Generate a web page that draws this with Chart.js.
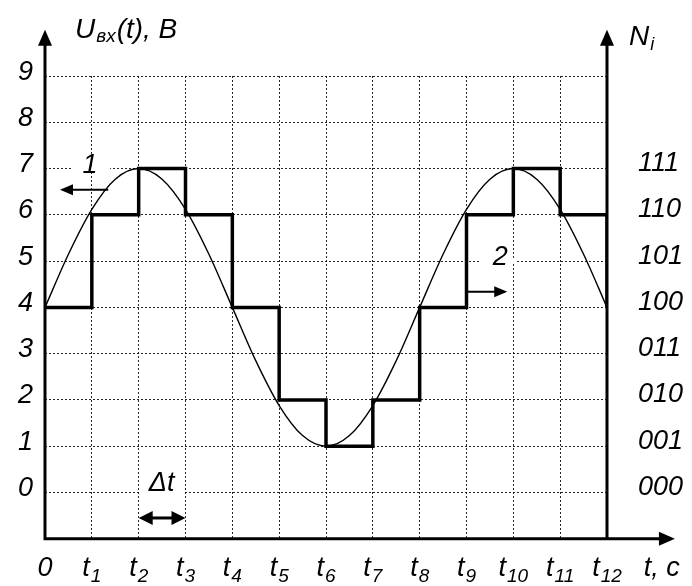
<!DOCTYPE html>
<html>
<head>
<meta charset="utf-8">
<title>АЦП: квантование входного напряжения</title>
<script src="https://cdn.jsdelivr.net/npm/chart.js@4.4.0/dist/chart.umd.min.js"></script>
<style>
  html, body { margin: 0; padding: 0; background: #fff; }
  canvas { display: block; }
</style>
</head>
<body>
<canvas id="adcChart" width="692" height="586"></canvas>
<script>
// sampling moments t0..t12 (in steps of Δt)
const sampleTimes = [0, 1, 2, 3, 4, 5, 6, 7, 8, 9, 10, 11, 12];
// quantized level held from each sample until the next one
const heldLevels = [4, 6, 7, 6, 4, 2, 1, 2, 4, 6, 7, 6, 4];

// input voltage Uвх(t), read every half step
const inputTimes = [0, 0.5, 1, 1.5, 2, 2.5, 3, 3.5, 4, 4.5, 5, 5.5, 6,
                    6.5, 7, 7.5, 8, 8.5, 9, 9.5, 10, 10.5, 11, 11.5, 12];
const inputVolts = [4.0, 5.15, 6.12, 6.77, 7.0, 6.77, 6.12, 5.15, 4.0, 2.85, 1.88, 1.23, 1.0,
                    1.23, 1.88, 2.85, 4.0, 5.15, 6.12, 6.77, 7.0, 6.77, 6.12, 5.15, 4.0];

const voltTicks = ['0', '1', '2', '3', '4', '5', '6', '7', '8', '9'];
const codeTicks = ['000', '001', '010', '011', '100', '101', '110', '111'];
const timeTicks = ['0', 't1', 't2', 't3', 't4', 't5', 't6', 't7', 't8', 't9', 't10', 't11', 't12'];

const FONT = "'Liberation Sans', Arial, sans-serif";
const gridColor = 'rgba(0,0,0,0.85)';

function italic(size) {
  return 'italic ' + size + 'px ' + FONT;
}

// filled arrow head with its tip at (x, y), pointing along (dx, dy)
function arrowHead(ctx, x, y, dx, dy, len, half) {
  ctx.beginPath();
  ctx.moveTo(x, y);
  ctx.lineTo(x - dx * len - dy * half, y - dy * len + dx * half);
  ctx.lineTo(x - dx * len + dy * half, y - dy * len - dx * half);
  ctx.closePath();
  ctx.fill();
}

// text with a lowered, smaller index; x is the left edge
function textWithIndex(ctx, x, y, main, sub, big, small, drop) {
  ctx.font = italic(big);
  ctx.fillText(main, x, y);
  const w = ctx.measureText(main).width;
  ctx.font = italic(small);
  ctx.fillText(sub, x + w + 1, y + drop);
  return w + 1 + ctx.measureText(sub).width;
}

function indexWidth(ctx, main, sub, big, small) {
  ctx.font = italic(big);
  const w = ctx.measureText(main).width;
  ctx.font = italic(small);
  return w + (sub ? 1 + ctx.measureText(sub).width : 0);
}

const axesAndNotes = {
  id: 'axesAndNotes',
  beforeDatasetsDraw(chart) {
    // clear the grid behind the callout labels
    const { ctx, scales: { x, y } } = chart;
    ctx.save();
    ctx.fillStyle = '#fff';
    ctx.fillRect(x.getPixelForValue(0.58), y.getPixelForValue(7) - 2, x.getPixelForValue(1.39) - x.getPixelForValue(0.58), 4);
    ctx.fillRect(x.getPixelForValue(9.29), y.getPixelForValue(5) - 2, x.getPixelForValue(10.08) - x.getPixelForValue(9.29), 4);
    ctx.fillRect(x.getPixelForValue(2) + 1.5, y.getPixelForValue(0) - 2, x.getPixelForValue(3) - x.getPixelForValue(2) - 3, 4);
    ctx.restore();
  },
  afterDraw(chart) {
    const { ctx, scales: { x, y } } = chart;
    const X = v => x.getPixelForValue(v);
    const Y = v => y.getPixelForValue(v);
    ctx.save();
    ctx.strokeStyle = '#000';
    ctx.fillStyle = '#000';

    // axes with arrows
    ctx.lineWidth = 3;
    ctx.beginPath();
    ctx.moveTo(X(0), Y(-1) + 1.5);
    ctx.lineTo(X(0), Y(10) + 10);
    ctx.moveTo(X(12), Y(-1));
    ctx.lineTo(X(12), Y(10) + 10);
    ctx.moveTo(X(0) - 1.5, Y(-1));
    ctx.lineTo(X(13.45) - 10, Y(-1));
    ctx.stroke();
    arrowHead(ctx, X(0), Y(10), 0, -1, 16, 7);
    arrowHead(ctx, X(12), Y(10), 0, -1, 16, 7);
    arrowHead(ctx, X(13.45), Y(-1), 1, 0, 16, 7);

    // axis titles
    ctx.textBaseline = 'alphabetic';
    ctx.textAlign = 'left';
    const tw = textWithIndex(ctx, 75, 38, 'U', 'вх', 28, 19, 4);
    ctx.font = italic(28);
    ctx.fillText('(t), В', 75 + tw + 1, 38);
    textWithIndex(ctx, 629, 45, 'N', 'i', 28, 18, 5);

    // time labels under the axis
    const base = Y(-1) + 37;
    timeTicks.forEach((label, i) => {
      const main = label[0];
      const sub = label.slice(1);
      const w = indexWidth(ctx, main, sub, 27, 19);
      textWithIndex(ctx, X(sampleTimes[i]) - w / 2, base, main, sub, 27, 19, 6);
    });
    ctx.font = italic(27);
    ctx.textAlign = 'center';
    ctx.fillText('t, с', X(13.17), base);

    // callouts: 1 — input voltage, 2 — quantized output
    ctx.fillText('1', X(0.96), Y(6.91));
    ctx.fillText('2', X(9.72), Y(4.92));
    ctx.fillText('Δt', X(2.49), Y(0.03));

    ctx.lineWidth = 2;
    ctx.beginPath();
    ctx.moveTo(X(1.35), Y(6.54));
    ctx.lineTo(X(0.32) + 8, Y(6.54));
    ctx.moveTo(X(9), Y(4.34));
    ctx.lineTo(X(9.87) - 8, Y(4.34));
    ctx.stroke();
    arrowHead(ctx, X(0.32), Y(6.54), -1, 0, 13, 5.5);
    arrowHead(ctx, X(9.87), Y(4.34), 1, 0, 13, 5.5);

    // Δt span between t2 and t3
    ctx.lineWidth = 3;
    ctx.beginPath();
    ctx.moveTo(X(2) + 10, Y(-0.55));
    ctx.lineTo(X(3) - 10, Y(-0.55));
    ctx.stroke();
    arrowHead(ctx, X(2), Y(-0.55), -1, 0, 14, 7);
    arrowHead(ctx, X(3), Y(-0.55), 1, 0, 14, 7);

    ctx.restore();
  }
};

new Chart(document.getElementById('adcChart'), {
  type: 'line',
  data: {
    datasets: [
      {
        label: 'Uвх(t)',
        data: inputTimes.map((t, i) => ({ x: t, y: inputVolts[i] })),
        borderColor: '#000',
        borderWidth: 1.4,
        pointRadius: 0,
        cubicInterpolationMode: 'monotone',
        fill: false
      },
      {
        label: 'Ni',
        data: sampleTimes.map((t, i) => ({ x: t, y: heldLevels[i] })),
        borderColor: '#000',
        borderWidth: 3.5,
        pointRadius: 0,
        stepped: 'before',
        borderJoinStyle: 'miter',
        fill: false
      }
    ]
  },
  options: {
    responsive: false,
    animation: false,
    devicePixelRatio: 1,
    layout: { padding: { top: 76 } },
    plugins: {
      legend: { display: false },
      tooltip: { enabled: false }
    },
    scales: {
      x: {
        type: 'linear',
        min: 0,
        max: 12,
        ticks: { display: false, stepSize: 1 },
        grid: { color: gridColor, lineWidth: 1, drawTicks: false },
        border: { display: false, dash: [2, 2] },
        afterFit: s => { s.height = 46; }
      },
      y: {
        min: -1,
        max: 9,
        position: 'left',
        ticks: {
          stepSize: 1,
          padding: 12,
          labelOffset: -4,
          color: '#000',
          font: { family: FONT, size: 27, style: 'italic' },
          callback: v => voltTicks[v] ?? ''
        },
        grid: { color: gridColor, lineWidth: 1, drawTicks: false },
        border: { display: false, dash: [2, 2] },
        afterFit: s => { s.width = 45; }
      },
      y2: {
        min: -1,
        max: 9,
        position: 'right',
        ticks: {
          stepSize: 1,
          padding: 31,
          labelOffset: -5,
          color: '#000',
          font: { family: FONT, size: 27, style: 'italic' },
          callback: v => codeTicks[v] ?? ''
        },
        grid: { display: false, drawTicks: false },
        border: { display: false },
        afterFit: s => { s.width = 85; }
      }
    }
  },
  plugins: [axesAndNotes]
});
</script>
</body>
</html>
